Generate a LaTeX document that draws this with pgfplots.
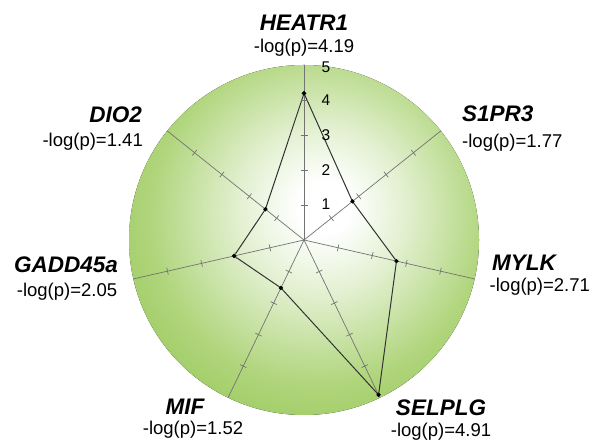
\documentclass[border=0pt]{standalone}
\usepackage{pgfplots}
\pgfplotsset{compat=1.18}
\usepgfplotslibrary{polar}
\usepackage{fontspec}
\setmainfont{Liberation Sans}
\definecolor{gedge}{RGB}{116,176,38}
\definecolor{gouter}{RGB}{140,194,72}
\definecolor{gmid}{RGB}{176,213,124}
\definecolor{glight}{RGB}{226,240,208}
\definecolor{spoke}{RGB}{115,115,115}
\pgfdeclareradialshading{greenball}{\pgfpoint{3bp}{5bp}}{%
  color(0bp)=(white); color(4bp)=(white!97!glight); color(12bp)=(glight);
  color(24bp)=(gmid); color(38bp)=(gouter); color(50bp)=(gedge); color(72bp)=(gedge)}
\newcommand{\gene}[1]{{\fontsize{22.5bp}{24bp}\selectfont\bfseries\itshape #1}}
\newcommand{\lp}[1]{{\fontsize{18.5bp}{21bp}\selectfont -log(p)=#1}}
\begin{document}
\begin{tikzpicture}
\useasboundingbox (0,0) rectangle (592bp,447bp);
\begin{axis}[
  at={(0,0)}, anchor=south west,
  scale only axis, width=592bp, height=447bp,
  xmin=-8.6857, xmax=8.2286, ymin=-5.9143, ymax=6.8571,
  hide axis, clip=false,
]
\fill[shading=greenball] (axis cs:0,0) circle[radius=5];
% spokes
\addplot[spoke, line width=0.7pt, data cs=polar] coordinates {(90,0)(90,5)};
\addplot[spoke, line width=0.7pt, data cs=polar] coordinates {(38.571,0)(38.571,5)};
\addplot[spoke, line width=0.7pt, data cs=polar] coordinates {(-12.857,0)(-12.857,5)};
\addplot[spoke, line width=0.7pt, data cs=polar] coordinates {(-64.286,0)(-64.286,5)};
\addplot[spoke, line width=0.7pt, data cs=polar] coordinates {(-115.714,0)(-115.714,5)};
\addplot[spoke, line width=0.7pt, data cs=polar] coordinates {(192.857,0)(192.857,5)};
\addplot[spoke, line width=0.7pt, data cs=polar] coordinates {(141.429,0)(141.429,5)};
% tick marks on spokes
\addplot[only marks, mark=|, mark size=3.5bp, mark options={spoke, line width=0.7pt, rotate=90}, data cs=polar] coordinates {(90,1)(90,2)(90,3)(90,4)};
\addplot[only marks, mark=|, mark size=3.5bp, mark options={spoke, line width=0.7pt, rotate=38.571}, data cs=polar] coordinates {(38.571,1)(38.571,2)(38.571,3)(38.571,4)};
\addplot[only marks, mark=|, mark size=3.5bp, mark options={spoke, line width=0.7pt, rotate=-12.857}, data cs=polar] coordinates {(-12.857,1)(-12.857,2)(-12.857,3)(-12.857,4)};
\addplot[only marks, mark=|, mark size=3.5bp, mark options={spoke, line width=0.7pt, rotate=-64.286}, data cs=polar] coordinates {(-64.286,1)(-64.286,2)(-64.286,3)(-64.286,4)};
\addplot[only marks, mark=|, mark size=3.5bp, mark options={spoke, line width=0.7pt, rotate=-115.714}, data cs=polar] coordinates {(-115.714,1)(-115.714,2)(-115.714,3)(-115.714,4)};
\addplot[only marks, mark=|, mark size=3.5bp, mark options={spoke, line width=0.7pt, rotate=192.857}, data cs=polar] coordinates {(192.857,1)(192.857,2)(192.857,3)(192.857,4)};
\addplot[only marks, mark=|, mark size=3.5bp, mark options={spoke, line width=0.7pt, rotate=141.429}, data cs=polar] coordinates {(141.429,1)(141.429,2)(141.429,3)(141.429,4)};
% data polygon
\addplot[black!80, line width=1pt, mark=*, mark size=1.6bp, mark options={black}, data cs=polar] coordinates {
  (90,4.19) (38.571,1.77) (-12.857,2.71) (-64.286,4.91) (-115.714,1.52) (192.857,2.05) (141.429,1.41) (90,4.19)};
% scale labels
\node[font=\fontsize{15.5bp}{17bp}\selectfont] at (axis cs:0.63,4.94) {5};
\node[font=\fontsize{15.5bp}{17bp}\selectfont] at (axis cs:0.63,4.0) {4};
\node[font=\fontsize{15.5bp}{17bp}\selectfont] at (axis cs:0.63,3.0) {3};
\node[font=\fontsize{15.5bp}{17bp}\selectfont] at (axis cs:0.63,2.0) {2};
\node[font=\fontsize{15.5bp}{17bp}\selectfont] at (axis cs:0.63,1.03) {1};
% gene labels
\node at (axis cs:0,6.2) {\gene{HEATR1}};
\node at (axis cs:0,5.486) {\lp{4.19}};
\node[anchor=west, inner sep=0pt] at (axis cs:4.514,3.6) {\gene{S1PR3}};
\node[anchor=west, inner sep=0pt] at (axis cs:4.514,2.771) {\lp{1.77}};
\node[anchor=west, inner sep=0pt] at (axis cs:5.371,-0.657) {\gene{MYLK}};
\node[anchor=west, inner sep=0pt] at (axis cs:5.30,-1.343) {\lp{2.71}};
\node at (axis cs:3.914,-4.8) {\gene{SELPLG}};
\node at (axis cs:3.914,-5.486) {\lp{4.91}};
\node at (axis cs:-3.4,-4.771) {\gene{MIF}};
\node at (axis cs:-3.171,-5.429) {\lp{1.52}};
\node at (axis cs:-6.8,-0.714) {\gene{GADD45a}};
\node at (axis cs:-6.771,-1.486) {\lp{2.05}};
\node[anchor=east, inner sep=0pt] at (axis cs:-4.629,3.571) {\gene{DIO2}};
\node[anchor=east, inner sep=0pt] at (axis cs:-4.6,2.8) {\lp{1.41}};
\end{axis}
\end{tikzpicture}
\end{document}
